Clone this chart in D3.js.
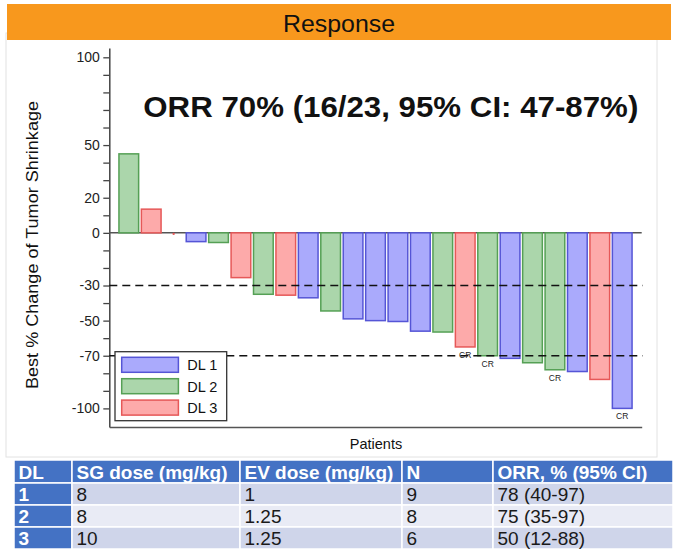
<!DOCTYPE html>
<html>
<head>
<meta charset="utf-8">
<script src="https://cdn.jsdelivr.net/npm/d3@7"></script>
<style>
  html, body { margin: 0; padding: 0; background: #fff; }
  svg { display: block; font-family: "Liberation Sans", Arial, Helvetica, sans-serif; }
</style>
</head>
<body>
<svg id="chart" width="680" height="555"></svg>
<script>
// ---------- data ----------
const patients = d3.range(1, 24);
const doseLevel = [2, 3, 3, 1, 2, 3, 2, 3, 1, 2, 1, 1, 1, 1, 2, 3, 2, 1, 2, 2, 1, 3, 1];
const bestChange = [45, 13.5, 0, -5, -5.5, -25.5, -35, -35.5, -37, -44.5, -49, -50, -50.5, -56, -56.5, -65, -70, -71.5, -74, -78, -79, -83.5, -100];
const crFlag = [0, 0, 0, 0, 0, 0, 0, 0, 0, 0, 0, 0, 0, 0, 0, 1, 1, 0, 0, 1, 0, 0, 1];
const yTickValues = d3.range(-100, 101, 10);
const yTickLabels = [100, 50, 20, 0, -30, -50, -70, -100];
const refLines = [-30, -70];
const legendLabels = ["DL 1", "DL 2", "DL 3"];

const tableHeaders = ["DL", "SG dose (mg/kg)", "EV dose (mg/kg)", "N", "ORR, % (95% CI)"];
const tableDL = ["1", "2", "3"];
const tableSG = ["8", "8", "10"];
const tableEV = ["1", "1.25", "1.25"];
const tableN = ["9", "8", "6"];
const tableORR = ["78 (40-97)", "75 (35-97)", "50 (12-88)"];

// ---------- styles ----------
const fills = { 1: "#aaaafc", 2: "#abd6ab", 3: "#fdaaaa" };
const strokes = { 1: "#5555d6", 2: "#55a055", 3: "#e65858" };

const svg = d3.select("#chart");

// panel
svg.append("rect").attr("x", 6).attr("y", 33).attr("width", 651).attr("height", 424)
  .attr("fill", "#fff").attr("stroke", "#e2e2e2").attr("stroke-width", 1);

// header
svg.append("rect").attr("x", 7).attr("y", 4).attr("width", 664).attr("height", 36)
  .attr("fill", "#f8981d");
svg.append("text").attr("x", 339).attr("y", 31.5).attr("text-anchor", "middle")
  .attr("font-size", 24).attr("fill", "#111")
  .attr("textLength", 112).attr("lengthAdjust", "spacingAndGlyphs")
  .text("Response");

// ---------- scales ----------
const x = d3.scaleBand().domain(patients).range([109.3, 641.7]).paddingInner(0.122).paddingOuter(0.43);
const y = d3.scaleLinear().domain([-110.6, 105.3]).range([427, 48]);

const g = svg.append("g");

// y axis
const yAxis = d3.axisLeft(y).tickValues(yTickValues).tickSize(6).tickSizeOuter(0)
  .tickFormat(d => yTickLabels.includes(d) ? String(d) : "");
const ya = g.append("g").attr("transform", "translate(109.3,0)").call(yAxis);
ya.select(".domain").attr("stroke", "#444").attr("stroke-width", 1.5);
ya.selectAll(".tick line").attr("stroke", "#444").attr("stroke-width", 1.3);
ya.selectAll(".tick text").attr("font-size", 14).attr("fill", "#222")
  .attr("font-family", "'Liberation Sans', Arial, sans-serif").attr("x", -9.5);

// x axis
const xa = g.append("g").attr("transform", `translate(0,${y.range()[0]})`)
  .call(d3.axisBottom(x).tickSize(0).tickSizeOuter(0).tickFormat(""));
xa.select(".domain").attr("stroke", "#555").attr("stroke-width", 1.5);

// zero line
g.append("line").attr("x1", x.range()[0]).attr("x2", x.range()[1])
  .attr("y1", y(0)).attr("y2", y(0)).attr("stroke", "#555").attr("stroke-width", 1.5);

// bars
const data = patients.map((p, i) => ({ p, dl: doseLevel[i], v: bestChange[i], cr: crFlag[i] }));
g.selectAll("rect.bar").data(data.filter(d => d.v !== 0)).join("rect")
  .attr("class", "bar")
  .attr("x", d => x(d.p))
  .attr("width", x.bandwidth())
  .attr("y", d => Math.min(y(d.v), y(0)))
  .attr("height", d => Math.abs(y(d.v) - y(0)))
  .attr("fill", d => fills[d.dl])
  .attr("stroke", d => strokes[d.dl])
  .attr("stroke-width", 1.5);
// zero-valued bars shown as tiny marks
g.selectAll("circle.zero").data(data.filter(d => d.v === 0)).join("circle")
  .attr("class", "zero")
  .attr("cx", d => x(d.p) + x.bandwidth() / 2)
  .attr("cy", d => y(d.v) + 1)
  .attr("r", 1.2)
  .attr("fill", d => strokes[d.dl]);

// reference lines
g.selectAll("line.ref").data(refLines).join("line")
  .attr("class", "ref")
  .attr("x1", x.range()[0]).attr("x2", x.range()[1] + 1)
  .attr("y1", d => y(d)).attr("y2", d => y(d))
  .attr("stroke", "#111").attr("stroke-width", 1.5).attr("stroke-dasharray", "8,5");

// CR labels
g.selectAll("text.cr").data(data.filter(d => d.cr)).join("text")
  .attr("class", "cr")
  .attr("x", d => x(d.p) + x.bandwidth() / 2)
  .attr("y", d => y(d.v) + 11)
  .attr("text-anchor", "middle").attr("font-size", 8.5).attr("fill", "#222")
  .text("CR");

// ORR annotation
g.append("text").attr("x", 143.3).attr("y", 117.3)
  .attr("font-size", 29).attr("font-weight", "bold").attr("fill", "#111")
  .attr("textLength", 495).attr("lengthAdjust", "spacingAndGlyphs")
  .text("ORR 70% (16/23, 95% CI: 47-87%)");

// axis titles
g.append("text").attr("transform", "translate(37.5,245) rotate(-90)")
  .attr("text-anchor", "middle").attr("font-size", 16).attr("fill", "#111")
  .attr("textLength", 288).attr("lengthAdjust", "spacingAndGlyphs")
  .text("Best % Change of Tumor Shrinkage");
g.append("text").attr("x", 376).attr("y", 448.5)
  .attr("text-anchor", "middle").attr("font-size", 14.5).attr("fill", "#111")
  .text("Patients");

// legend
const lg = g.append("g");
lg.append("rect").attr("x", 115).attr("y", 351.7).attr("width", 111.7).attr("height", 69)
  .attr("fill", "#fff").attr("stroke", "#333").attr("stroke-width", 1.3);
const li = lg.selectAll("g.item").data(legendLabels).join("g").attr("class", "item")
  .attr("transform", (d, i) => `translate(121.7,${357.3 + i * 21.4})`);
li.append("rect").attr("width", 56.7).attr("height", 15)
  .attr("fill", (d, i) => fills[i + 1]).attr("stroke", (d, i) => strokes[i + 1]).attr("stroke-width", 1.5);
li.append("text").attr("x", 65.6).attr("y", 12.8).attr("font-size", 14.5).attr("fill", "#111")
  .text(d => d);

// ---------- table ----------
const colEdges = [14, 72, 240, 402, 493, 673];
const rowEdges = [460, 483, 505, 527, 549];
const rows = [tableHeaders].concat(tableDL.map((d, i) => [d, tableSG[i], tableEV[i], tableN[i], tableORR[i]]));
const rowBg = ["#4472c4", "#cfd5ea", "#e9ebf5", "#cfd5ea"];
const tg = svg.append("g");
rows.forEach((r, ri) => {
  r.forEach((c, ci) => {
    const isHead = ri === 0 || ci === 0;
    tg.append("rect")
      .attr("x", colEdges[ci]).attr("y", rowEdges[ri])
      .attr("width", colEdges[ci + 1] - colEdges[ci]).attr("height", rowEdges[ri + 1] - rowEdges[ri])
      .attr("fill", isHead ? "#4472c4" : rowBg[ri])
      .attr("stroke", "#fff").attr("stroke-width", 1.5);
    tg.append("text")
      .attr("x", colEdges[ci] + 4.5)
      .attr("y", (rowEdges[ri] + rowEdges[ri + 1]) / 2 + 7)
      .attr("font-size", 19)
      .attr("font-weight", isHead ? "bold" : "normal")
      .attr("fill", isHead ? "#fff" : "#1a1a1a")
      .text(c);
  });
});
</script>
</body>
</html>
